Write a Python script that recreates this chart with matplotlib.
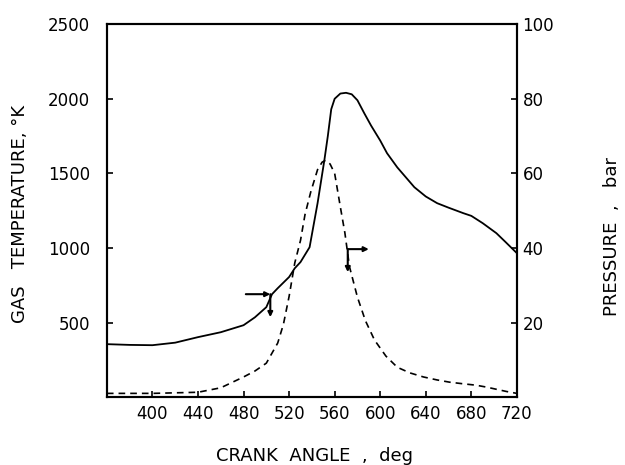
"""Gas temperature and cylinder pressure against crank angle."""

import matplotlib
matplotlib.use("Agg")
import matplotlib.pyplot as plt

# gas temperature (K), left axis
angle_t = [360, 380, 400, 420, 440, 460, 480, 490, 500, 505, 510, 520, 525, 530, 538,
           545, 551, 554, 557, 560, 565, 570, 575, 580, 586, 592, 600, 606, 615, 630,
           640, 650, 660, 673, 680, 690, 702, 710, 720]
temp = [355, 350, 348, 365, 402, 435, 482, 535, 603, 690, 730, 805, 864, 905, 1005,
        1300, 1590, 1750, 1930, 2000, 2035, 2040, 2030, 1990, 1903, 1820, 1720, 1635, 1540, 1407,
        1345, 1300, 1270, 1233, 1215, 1166, 1099, 1040, 965]

# cylinder pressure (bar), right axis
angle_p = [360, 400, 440, 460, 480, 490, 500, 510, 515, 520, 525, 530, 534, 539, 545,
           549, 552, 556, 560, 565, 569, 573, 580, 587, 595, 605, 615, 626, 638, 650,
           661, 672, 684, 693, 702, 711, 720]
press = [1.0, 1.0, 1.3, 2.5, 5.4, 7.0, 9.1, 14.5, 19.5, 27, 36, 42, 49, 55, 61,
         63, 63.5, 62.5, 60, 51, 44, 35, 26.8, 20.5, 15.3, 11, 8, 6.5, 5.4, 4.6,
         4.0, 3.6, 3.2, 2.7, 2.1, 1.5, 1.0]

x_ticks = [400, 440, 480, 520, 560, 600, 640, 680, 720]
t_ticks = [500, 1000, 1500, 2000, 2500]
p_ticks = [20, 40, 60, 80, 100]

# event flags (crank angle, temperature) drawn on the temperature curve
flag1_h = ([482, 503.5], [690, 690])
flag1_v = ([503.5, 503.5], [690, 536])
flag2_h = ([571.5, 590], [992, 992])
flag2_v = ([571.5, 571.5], [992, 838])

plt.rcParams['font.family'] = ['DejaVu Sans']

fig = plt.figure(figsize=(6.25, 4.65), dpi=100)
ax = fig.add_axes([0.171, 0.146, 0.656, 0.802])
ax2 = ax.twinx()

ax.plot(angle_t, temp, color='black', lw=1.3)
ax2.plot(angle_p, press, color='black', lw=1.2, dashes=(4, 3))

for xs, ys in (flag1_h, flag2_h, flag1_v, flag2_v):
    ax.annotate('', xy=(xs[1], ys[1]), xytext=(xs[0], ys[0]),
                arrowprops=dict(arrowstyle='-|>', color='black', lw=1.5,
                                mutation_scale=7, shrinkA=0, shrinkB=0))

ax.set_xlim(360, 720)
ax.set_ylim(0, 2500)
ax2.set_ylim(0, 100)
ax.set_xticks(x_ticks)
ax.set_yticks(t_ticks)
ax2.set_yticks(p_ticks)

ax.tick_params(axis='both', direction='in', length=4, width=1.2, labelsize=12)
ax.tick_params(axis='y', pad=12)
ax.tick_params(axis='x', pad=6)
ax2.tick_params(axis='y', direction='in', length=4, width=1.2, labelsize=12, pad=4)

for a in (ax, ax2):
    for s in a.spines.values():
        s.set_linewidth(1.5)

ax.set_xlabel('CRANK  ANGLE  ,  deg', fontsize=13)
ax.xaxis.set_label_coords(0.507, -0.135)
ax.set_ylabel('GAS   TEMPERATURE, °K', fontsize=13)
ax.yaxis.set_label_coords(-0.19, 0.49)
ax2.set_ylabel('PRESSURE  ,   bar', fontsize=13)
ax2.yaxis.set_label_coords(1.21, 0.43)

fig.savefig('out.png', dpi=100)
